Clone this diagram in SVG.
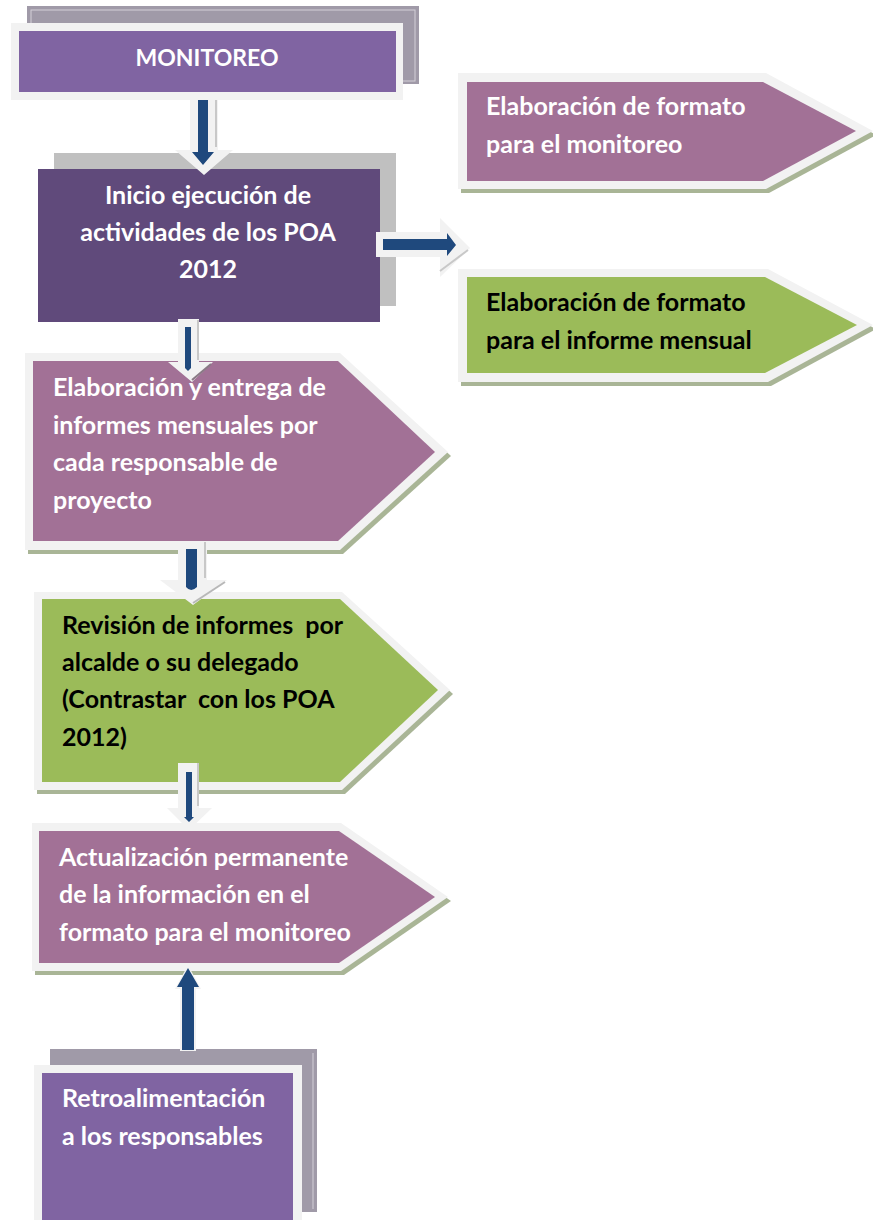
<svg xmlns="http://www.w3.org/2000/svg" width="873" height="1220" viewBox="0 0 873 1220">
<style>
text{font-family:Lato,"Liberation Sans",sans-serif;font-weight:bold;font-size:25px;white-space:pre}
.w{fill:#ffffff}
.k{fill:#000000}
.edge{fill:#f2f2f2}
.shd{fill:#a9b596}
.back{fill:#a09aa8}
.blue{fill:#1f497d}
</style>
<rect width="873" height="1220" fill="#ffffff"/>
<g id="monitoreo">
<rect class="back" x="27" y="6" width="392" height="78"/>
<rect x="31" y="10" width="384" height="71" fill="none" stroke="#d4d0d8" stroke-width="1"/>
<rect class="edge" x="11" y="23" width="392" height="77"/>
<rect x="19" y="31" width="377" height="61" fill="#8064a2"/>
<text class="w" x="207" y="66" text-anchor="middle" style="font-size:23px">MONITOREO</text>
</g>
<g id="inicio">
<rect x="54" y="153" width="342" height="153" fill="#c0c0c0"/>
<rect x="38" y="169" width="342" height="153" fill="#604a7b"/>
<text class="w" text-anchor="middle"><tspan x="208" y="204">Inicio ejecución de</tspan><tspan x="208" y="241">actividades de los POA</tspan><tspan x="208" y="278">2012</tspan></text>
</g>
<g id="formato-monitoreo">
<polygon class="shd" points="461,77 769,77 876,135 769,193 461,193"/>
<polygon class="edge" points="458,73 766,73 873,131 766,189 458,189"/>
<polygon points="467,82 763,82 856,131 763,181 467,181" fill="#a27196"/>
<text class="w"><tspan x="486" y="115">Elaboración de formato</tspan><tspan x="486" y="153">para el monitoreo</tspan></text>
</g>
<g id="formato-informe">
<polygon class="shd" points="461,273 771,273 876,329 771,386 461,386"/>
<polygon class="edge" points="458,269 768,269 873,325 768,382 458,382"/>
<polygon points="467,277 765,277 857,325 765,373 467,373" fill="#9bbb59"/>
<text class="k"><tspan x="486" y="311">Elaboración de formato</tspan><tspan x="486" y="349">para el informe mensual</tspan></text>
</g>
<g id="elaboracion-entrega">
<polygon class="shd" points="28,357 343,357 451,456 343,554 28,554"/>
<polygon class="edge" points="25,353 340,353 448,452 340,550 25,550"/>
<polygon points="33,361 338,361 435,452 338,541 33,541" fill="#a27196"/>
<text class="w"><tspan x="53" y="396">Elaboración y entrega de</tspan><tspan x="53" y="434">informes mensuales por</tspan><tspan x="53" y="471">cada responsable de</tspan><tspan x="53" y="509">proyecto</tspan></text>
</g>
<g id="revision">
<polygon class="shd" points="37,596 345,596 453,694 345,794 37,794"/>
<polygon class="edge" points="34,592 342,592 450,690 342,790 34,790"/>
<polygon points="42,599 340,599 438,690 340,782 42,782" fill="#9bbb59"/>
<text class="k"><tspan x="62" y="634">Revisión de informes  por</tspan><tspan x="62" y="671">alcalde o su delegado</tspan><tspan x="62" y="708">(Contrastar  con los POA</tspan><tspan x="62" y="746">2012)</tspan></text>
</g>
<g id="actualizacion">
<polygon class="shd" points="35,827 344,827 451,901 344,975 35,975"/>
<polygon class="edge" points="32,823 341,823 448,897 341,971 32,971"/>
<polygon points="39,831 339,831 435,897 339,963 39,963" fill="#a27196"/>
<text class="w"><tspan x="59" y="866">Actualización permanente</tspan><tspan x="59" y="903">de la información en el</tspan><tspan x="59" y="941">formato para el monitoreo</tspan></text>
</g>
<g id="retroalimentacion">
<rect class="back" x="50" y="1049" width="267" height="163"/>
<line x1="313" y1="1053" x2="313" y2="1209" stroke="#d4d0d8" stroke-width="1"/>
<rect class="edge" x="34" y="1065" width="268" height="155"/>
<rect x="42" y="1073" width="251" height="147" fill="#8064a2"/>
<text class="w"><tspan x="62" y="1107">Retroalimentación</tspan><tspan x="62" y="1145">a los responsables</tspan></text>
</g>
<g id="connectors">
<polygon class="edge" points="190,100 218,100 218,150 233,150 204,175 175,150 190,150"/>
<line x1="216" y1="100" x2="216" y2="147" stroke="#c8c8c8" stroke-width="2"/>
<polygon class="blue" points="198,100 208,100 208,152 214,152 203,165 192,152 198,152"/>
<polygon class="edge" points="376,232 440,232 440,218 470,248 440,277 440,257 376,257"/>
<line x1="440" y1="271" x2="468" y2="250" stroke="#c8c8c8" stroke-width="2"/>
<polygon class="blue" points="383,239 447,239 447,233 456,245 447,256 447,250 383,250"/>
<polygon class="edge" points="178,319 199,319 199,362 213,362 192,382 168,362 178,362"/>
<line x1="198" y1="320" x2="198" y2="360" stroke="#c8c8c8" stroke-width="2"/>
<line x1="192" y1="380" x2="211" y2="364" stroke="#8a7a86" stroke-width="2"/>
<polygon class="blue" points="185,327 191,327 191,368 188,371 185,368"/>
<polygon class="edge" points="178,542 207,542 207,580 227,580 193,605 160,580 178,580"/>
<line x1="205" y1="542" x2="205" y2="578" stroke="#c8c8c8" stroke-width="2"/>
<line x1="193" y1="603" x2="225" y2="582" stroke="#b8b8b8" stroke-width="2"/>
<path class="blue" d="M186,549 H197 V587 Q191,593 186,587 Z"/>
<polygon class="edge" points="178,763 199,763 199,808 212,808 189,830 167,808 178,808"/>
<line x1="198" y1="763" x2="198" y2="806" stroke="#c8c8c8" stroke-width="2"/>
<polygon class="blue" points="186,772 192,772 192,817 194,817 189,822 184,817 186,817"/>
<polygon class="edge" points="180,1051 196,1051 196,989 201,989 188,965 175,989 180,989"/>
<polygon class="blue" points="182,1050 194,1050 194,987 199,987 188,968 177,987 182,987"/>
</g>
</svg>
